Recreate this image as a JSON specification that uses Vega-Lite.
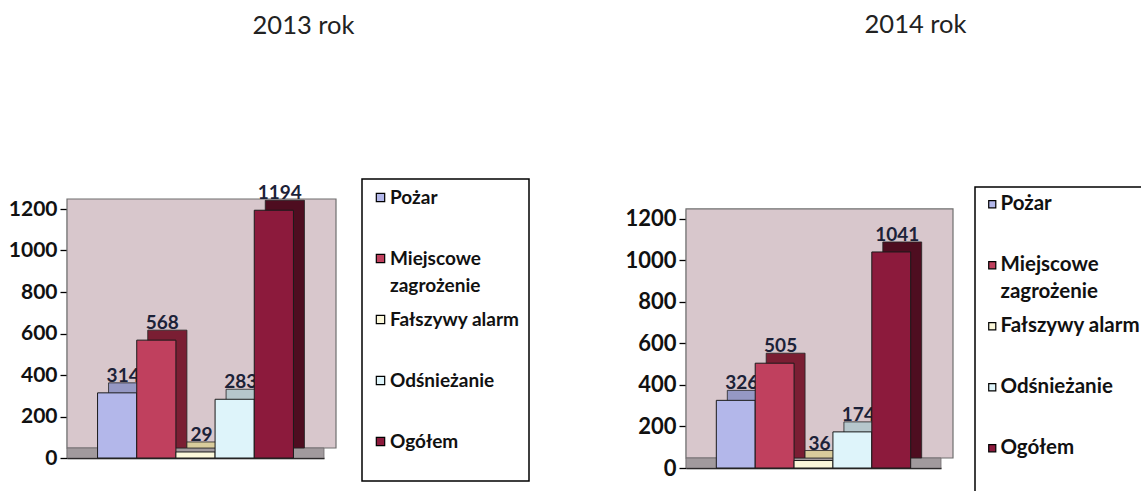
{
  "$schema": "https://vega.github.io/schema/vega-lite/v6.json",
  "padding": {"left": 8, "top": 12, "right": 0, "bottom": 0},
  "bounds": "flush",
  "spacing": 362,
  "background": "white",
  "datasets": {
    "d2013": [
      {"cat": "Pożar", "value": 314},
      {"cat": "Miejscowe zagrożenie", "value": 568},
      {"cat": "Fałszywy alarm", "value": 29},
      {"cat": "Odśnieżanie", "value": 283},
      {"cat": "Ogółem", "value": 1194}
    ],
    "d2014": [
      {"cat": "Pożar", "value": 326},
      {"cat": "Miejscowe zagrożenie", "value": 505},
      {"cat": "Fałszywy alarm", "value": 36},
      {"cat": "Odśnieżanie", "value": 174},
      {"cat": "Ogółem", "value": 1041}
    ],
    "frame": [{"lo": 0, "hi": 1200}]
  },
  "config": {
    "view": {"stroke": null},
    "font": "Lato",
    "style": {"guide-label": {"lineHeight": 27}},
    "title": {"font": "Lato", "fontSize": 25.5, "fontWeight": "normal", "color": "#222222", "anchor": "middle", "frame": "group", "baseline": "alphabetic"},
    "axisY": {"format": "d", "labelFont": "Lato", "labelFontSize": 21, "labelFontWeight": "bold", "labelColor": "#111111", "tickSize": 7, "tickColor": "#000000", "domainColor": "#000000", "domainWidth": 1.3, "tickWidth": 1.3, "grid": false, "title": null, "labelPadding": 3, "values": [0, 200, 400, 600, 800, 1000, 1200]},
    "axisX": {"labels": false, "ticks": false, "title": null, "domainColor": "#000000", "domainWidth": 1.3, "grid": false},
    "legend": {
      "orient": "none",
      "strokeColor": "#000000",
      "strokeWidth": 1.5,
      "fillColor": "#ffffff",
      "padding": 9,
      "symbolType": "square",
      "symbolSize": 70,
      "symbolStrokeColor": "#000000",
      "symbolStrokeWidth": 1.2,
      "labelFont": "Lato",
      "labelFontSize": 19,
      "labelFontWeight": "bold",
      "labelColor": "#111111",
      "labelLimit": 300,
      "labelOffset": 0,
      "gridAlign": "each",
      "rowPadding": 14,
      "titleOrient": "bottom",
      "titleFontSize": 11,
      "titlePadding": 9
    }
  },
  "hconcat": [
    {
      "width": 257,
      "height": 249,
      "title": {"text": "2013 rok", "dx": 108, "offset": 139},
      "data": {"name": "d2013"},
      "resolve": {"scale": {"fill": "independent"}},
      "encoding": {
        "x": {"field": "cat", "type": "nominal", "sort": null, "scale": {"paddingInner": 0, "paddingOuter": 0.78}},
        "y": {"field": "value", "type": "quantitative", "scale": {"domain": [0, 1200], "nice": false}}
      },
      "layer": [
        {"data": {"name": "frame"}, "mark": {"type": "rect", "fill": "#dbcbd0"}, "encoding": {"x": null, "y": {"field": "lo", "type": "quantitative"}, "y2": {"field": "hi"}}},
        {"data": {"name": "frame"}, "mark": {"type": "rect", "fill": "#d8c7cc", "stroke": "#6f6f6f", "strokeWidth": 1.2, "xOffset": 12, "x2Offset": 12, "yOffset": -10, "y2Offset": -10}, "encoding": {"x": null, "y": {"field": "lo", "type": "quantitative"}, "y2": {"field": "hi"}}},
        {"data": {"name": "frame"}, "mark": {"type": "rect", "fill": "#a19a9d", "stroke": "#6f6a6c", "strokeWidth": 0.8, "x2Offset": 10, "y2Offset": -10}, "encoding": {"x": null, "y": {"field": "lo", "type": "quantitative"}, "y2": {"field": "lo"}}},
        {"mark": {"type": "bar", "xOffset": 11, "x2Offset": 11, "yOffset": -10, "y2Offset": -10, "stroke": "#222222", "strokeWidth": 0.8}, "encoding": {"fill": {"field": "cat", "type": "nominal", "sort": null, "legend": null, "scale": {"domain": ["Pożar", "Miejscowe zagrożenie", "Fałszywy alarm", "Odśnieżanie", "Ogółem"], "range": ["#9598c4", "#7a1e33", "#d9cc9c", "#b6c7cc", "#4e0d20"]}}}},
        {"mark": {"type": "text", "font": "Lato", "fontSize": 19, "fontWeight": "bold", "color": "#1c2238", "dx": 6, "dy": -11, "baseline": "alphabetic"}, "encoding": {"text": {"field": "value", "type": "quantitative"}}},
        {"mark": {"type": "bar", "stroke": "#1a1a1a", "strokeWidth": 1}, "encoding": {"color": {"field": "cat", "type": "nominal", "sort": null, "scale": {"domain": ["Pożar", "Miejscowe zagrożenie", "Fałszywy alarm", "Odśnieżanie", "Ogółem"], "range": ["#b3b7ea", "#c0405e", "#fbf7da", "#def4fa", "#8c1a3c"]}, "legend": {"title": " ", "legendX": 295, "legendY": -30, "labelExpr": "datum.label == 'Miejscowe zagrożenie' ? ['Miejscowe', 'zagrożenie'] : (datum.label == 'Ogółem' ? datum.label : [datum.label, ''])"}}}}
      ]
    },
    {
      "width": 255,
      "height": 259,
      "title": {"text": "2014 rok", "dx": 102, "offset": 148},
      "data": {"name": "d2014"},
      "resolve": {"scale": {"fill": "independent"}},
      "encoding": {
        "x": {"field": "cat", "type": "nominal", "sort": null, "scale": {"paddingInner": 0, "paddingOuter": 0.78}},
        "y": {"field": "value", "type": "quantitative", "scale": {"domain": [0, 1248], "nice": false}, "axis": {"labelFontSize": 22}}
      },
      "layer": [
        {"data": {"name": "frame"}, "mark": {"type": "rect", "fill": "#dbcbd0"}, "encoding": {"x": null, "y": {"field": "lo", "type": "quantitative"}, "y2": {"field": "hi"}}},
        {"data": {"name": "frame"}, "mark": {"type": "rect", "fill": "#d8c7cc", "stroke": "#6f6f6f", "strokeWidth": 1.2, "xOffset": 12, "x2Offset": 12, "yOffset": -10, "y2Offset": -10}, "encoding": {"x": null, "y": {"field": "lo", "type": "quantitative"}, "y2": {"field": "hi"}}},
        {"data": {"name": "frame"}, "mark": {"type": "rect", "fill": "#a19a9d", "stroke": "#6f6a6c", "strokeWidth": 0.8, "x2Offset": 10, "y2Offset": -10}, "encoding": {"x": null, "y": {"field": "lo", "type": "quantitative"}, "y2": {"field": "lo"}}},
        {"mark": {"type": "bar", "xOffset": 11, "x2Offset": 11, "yOffset": -10, "y2Offset": -10, "stroke": "#222222", "strokeWidth": 0.8}, "encoding": {"fill": {"field": "cat", "type": "nominal", "sort": null, "legend": null, "scale": {"domain": ["Pożar", "Miejscowe zagrożenie", "Fałszywy alarm", "Odśnieżanie", "Ogółem"], "range": ["#9598c4", "#7a1e33", "#d9cc9c", "#b6c7cc", "#4e0d20"]}}}},
        {"mark": {"type": "text", "font": "Lato", "fontSize": 19, "fontWeight": "bold", "color": "#1c2238", "dx": 6, "dy": -11, "baseline": "alphabetic"}, "encoding": {"text": {"field": "value", "type": "quantitative"}}},
        {"mark": {"type": "bar", "stroke": "#1a1a1a", "strokeWidth": 1}, "encoding": {"color": {"field": "cat", "type": "nominal", "sort": null, "scale": {"domain": ["Pożar", "Miejscowe zagrożenie", "Fałszywy alarm", "Odśnieżanie", "Ogółem"], "range": ["#b3b7ea", "#c0405e", "#fbf7da", "#def4fa", "#8c1a3c"]}, "legend": {"title": null, "legendX": 289, "legendY": -22, "padding": 7, "symbolSize": 50, "labelOffset": -2, "labelFontSize": 20.5, "rowPadding": 13, "labelExpr": "datum.label == 'Miejscowe zagrożenie' ? ['Miejscowe', 'zagrożenie'] : [datum.label, '']"}}}}
      ]
    }
  ],
  "resolve": {"scale": {"color": "independent", "y": "independent", "x": "independent", "fill": "independent"}, "legend": {"color": "independent"}}
}
